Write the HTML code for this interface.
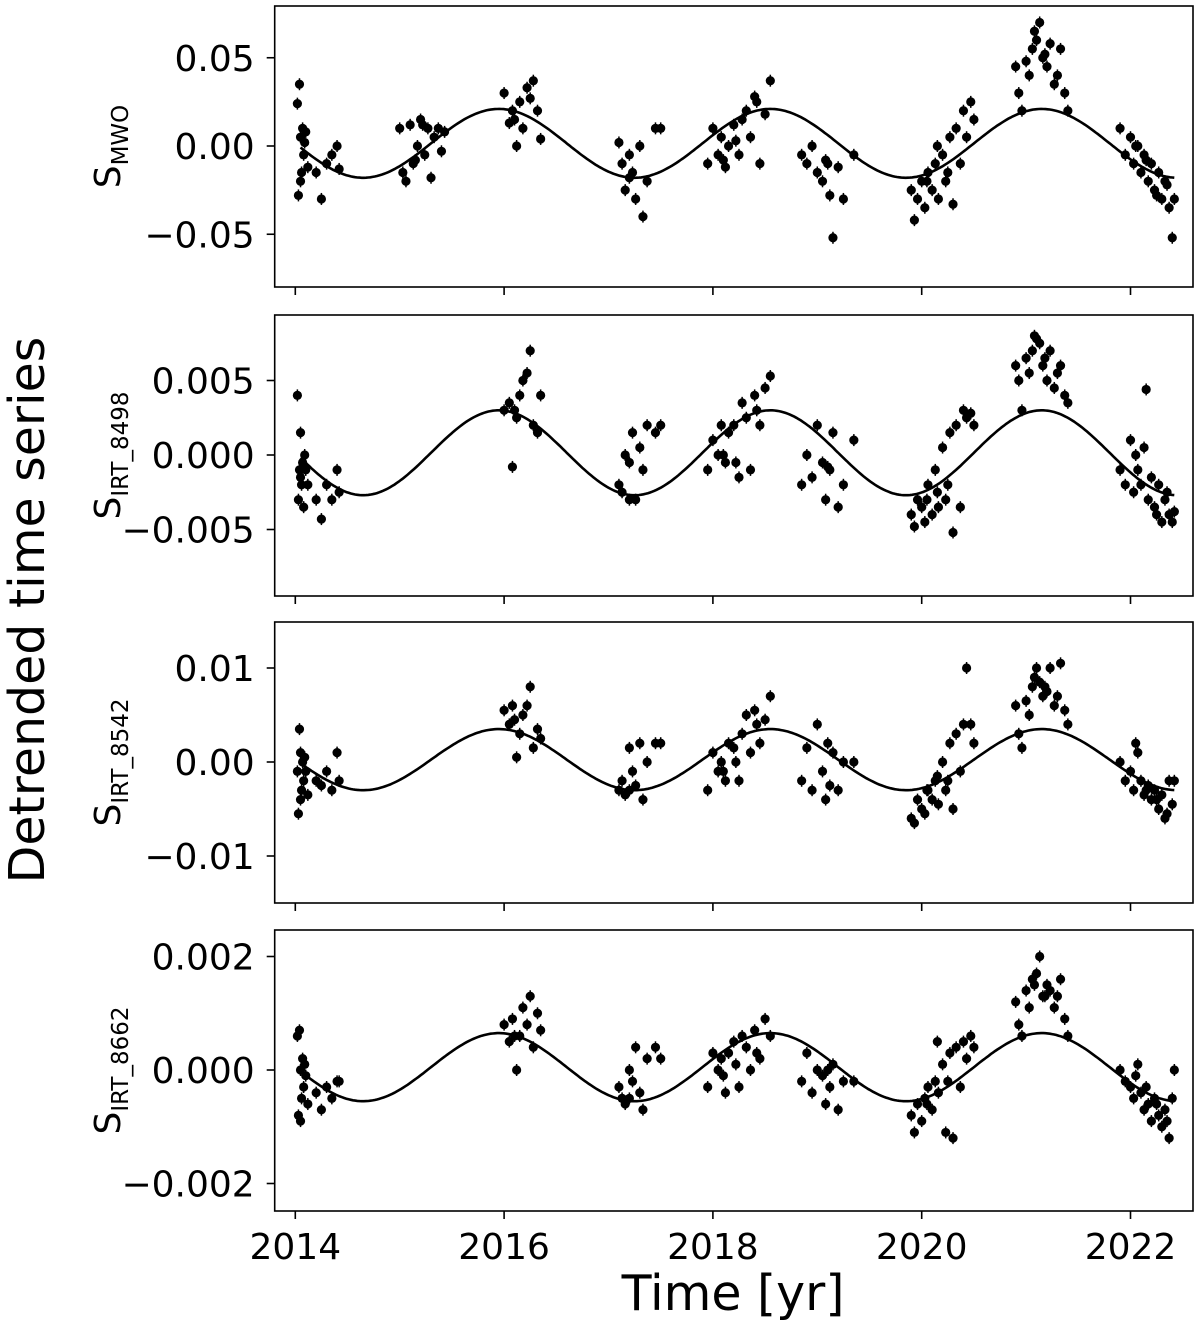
<!DOCTYPE html>
<html><head><meta charset="utf-8"><style>
body{margin:0;background:#fff}
svg{display:block}
text{font-family:"DejaVu Sans","Liberation Sans",sans-serif;fill:#000}
</style></head><body>
<svg id="chart" width="1200" height="1326" viewBox="0 0 1200 1326" xmlns="http://www.w3.org/2000/svg"></svg>
<script>
const tA=[2014.02,2014.03,2014.04,2014.05,2014.06,2014.07,2014.08,2014.1,2014.12,2014.2,2014.25,2014.3,2014.35,2014.4,2014.42,2014.05,2014.09];
const tB=[2015.0,2015.03,2015.06,2015.1,2015.13,2015.17,2015.2,2015.24,2015.27,2015.3,2015.33,2015.37,2015.4,2015.43,2015.15,2015.22];
const tC=[2016.0,2016.05,2016.08,2016.12,2016.15,2016.18,2016.22,2016.25,2016.28,2016.32,2016.35,2016.1];
const tD=[2017.1,2017.13,2017.16,2017.2,2017.23,2017.26,2017.3,2017.33,2017.37,2017.45,2017.5,2017.2];
const tE=[2017.95,2018.0,2018.05,2018.08,2018.12,2018.15,2018.2,2018.25,2018.28,2018.32,2018.36,2018.4,2018.45,2018.5,2018.55,2018.1,2018.22,2018.42];
const tF=[2018.85,2018.9,2018.95,2019.0,2019.05,2019.08,2019.12,2019.15,2019.2,2019.25,2019.1,2019.35];
const tG=[2019.9,2019.93,2019.96,2020.0,2020.03,2020.06,2020.1,2020.13,2020.16,2020.2,2020.23,2020.27,2020.3,2020.33,2020.37,2020.4,2020.43,2020.47,2020.5,2020.25,2020.15,2020.05];
const tH=[2020.9,2020.93,2020.96,2021.0,2021.03,2021.06,2021.1,2021.13,2021.16,2021.2,2021.23,2021.27,2021.3,2021.33,2021.37,2021.4,2021.08,2021.18];
const tI=[2021.9,2021.95,2022.0,2022.03,2022.07,2022.1,2022.13,2022.17,2022.2,2022.23,2022.27,2022.3,2022.33,2022.37,2022.4,2022.42,2022.05,2022.15,2022.25,2022.35];
const times=[...tA,...tB,...tC,...tD,...tE,...tF,...tG,...tH,...tI];
const nB=[null,null,null,null,null,null,null,null,null,null,null,null,null,null,null,null];
const sMWO=[0.024,-0.028,0.035,0.005,-0.015,0.01,-0.005,0.008,-0.012,-0.015,-0.03,-0.01,-0.005,0.0,-0.013,-0.02,0.002,
0.01,-0.015,-0.02,0.012,-0.01,0.0,0.015,-0.005,0.01,-0.018,0.005,0.01,-0.003,0.008,-0.008,0.012,
0.03,0.013,0.02,0.0,0.025,0.01,0.033,0.027,0.037,0.02,0.004,0.015,
0.002,-0.01,-0.025,-0.005,-0.015,-0.03,0.0,-0.04,-0.02,0.01,0.01,-0.018,
-0.01,0.01,-0.005,0.005,-0.012,0.0,0.012,-0.005,0.015,0.02,0.005,0.028,-0.01,0.018,0.037,-0.008,0.003,0.025,
-0.005,-0.01,0.0,-0.015,-0.02,-0.008,-0.028,-0.052,-0.012,-0.03,-0.01,-0.005,
-0.025,-0.042,-0.03,-0.02,-0.035,-0.015,-0.025,-0.01,-0.03,-0.005,-0.02,0.005,-0.033,0.01,-0.01,0.02,0.005,0.025,0.015,-0.015,0.0,-0.02,
0.045,0.03,0.02,0.048,0.04,0.055,0.06,0.07,0.05,0.045,0.058,0.035,0.04,0.055,0.03,0.02,0.065,0.052,
0.01,-0.005,0.005,-0.01,0.0,-0.015,-0.005,-0.02,-0.01,-0.025,-0.015,-0.03,-0.02,-0.035,-0.052,-0.03,0.0,-0.008,-0.028,-0.022];
const s8498=[0.004,-0.003,-0.001,0.0015,-0.002,-0.0005,-0.0035,-0.001,-0.002,-0.003,-0.0043,-0.002,-0.003,-0.001,-0.0025,-0.0015,0.0,
...nB,
0.003,0.0035,-0.0008,0.0025,0.004,0.005,0.0055,0.007,0.002,0.0015,0.004,0.003,
-0.002,-0.0025,0.0,-0.0005,0.0015,-0.003,0.0005,-0.001,0.002,0.0015,0.002,-0.003,
-0.001,0.001,0.0,0.002,-0.0005,0.0015,0.002,-0.0015,0.0035,0.0025,-0.001,0.004,0.002,0.0045,0.0053,0.0,-0.0005,0.003,
-0.002,0.0,-0.0015,0.002,-0.0005,-0.003,-0.001,0.0015,-0.0035,-0.002,-0.0008,0.001,
-0.004,-0.0048,-0.003,-0.0035,-0.0045,-0.002,-0.004,-0.001,-0.0035,0.0005,-0.003,0.0015,-0.0052,0.002,-0.0035,0.003,0.0025,0.0028,0.002,-0.002,-0.0025,-0.003,
0.006,0.005,0.003,0.0065,0.0055,0.007,0.0078,0.0075,0.006,0.005,0.007,0.0045,0.0055,0.006,0.004,0.0035,0.008,0.0065,
-0.001,-0.002,0.001,-0.0025,-0.001,-0.002,0.0005,-0.003,-0.0015,-0.0035,-0.002,-0.0045,-0.003,-0.004,-0.0045,-0.0038,0.0,0.0044,-0.004,-0.0025];
const s8542=[-0.001,-0.0055,0.0035,0.001,-0.003,0.0,-0.002,-0.001,-0.0035,-0.002,-0.0025,-0.001,-0.003,0.001,-0.002,-0.004,0.0005,
...nB,
0.0055,0.004,0.006,0.0005,0.003,0.005,0.006,0.008,0.0015,0.0035,0.0025,0.0045,
-0.003,-0.002,-0.0035,0.0015,-0.001,-0.0025,0.002,-0.004,0.0,0.002,0.002,-0.003,
-0.003,0.001,-0.001,0.0,-0.002,0.002,0.0015,-0.002,0.003,0.005,0.001,0.0055,0.002,0.0045,0.007,-0.001,0.0,0.004,
-0.002,0.0015,-0.003,0.004,-0.001,-0.004,-0.0025,0.001,-0.003,0.0,0.002,0.0,
-0.006,-0.0065,-0.004,-0.005,-0.0055,-0.003,-0.004,-0.002,-0.0045,0.0,-0.003,0.002,-0.005,0.003,-0.001,0.004,0.01,0.004,0.002,-0.002,-0.0015,-0.003,
0.006,0.003,0.0015,0.0065,0.005,0.008,0.01,0.0085,0.007,0.0075,0.01,0.006,0.007,0.0105,0.0055,0.004,0.009,0.008,
0.0,-0.002,-0.001,-0.003,0.001,-0.002,-0.0035,-0.0025,-0.004,-0.003,-0.005,-0.0035,-0.006,-0.002,-0.0045,-0.002,0.002,-0.003,-0.004,-0.0055];
const s8662=[0.0006,-0.0008,0.0007,0.0,-0.0005,0.0002,-0.0003,-0.0001,-0.0006,-0.0004,-0.0007,-0.0003,-0.0005,-0.0002,-0.0002,-0.0009,0.0001,
...nB,
0.0008,0.0005,0.0009,0.0,0.0006,0.0011,0.0008,0.0013,0.0004,0.001,0.0007,0.0006,
-0.0003,-0.0005,-0.0006,0.0,-0.0002,0.0004,-0.0004,-0.0007,0.0002,0.0004,0.0002,-0.0005,
-0.0003,0.0003,0.0,0.0002,-0.0004,0.0003,0.0005,-0.0003,0.0006,0.0004,0.0,0.0007,0.0002,0.0009,0.0006,-0.0001,0.0001,0.0003,
-0.0002,0.0003,-0.0004,0.0,-0.0001,-0.0006,-0.0003,0.0001,-0.0007,-0.0002,0.0,-0.0002,
-0.0008,-0.0011,-0.0006,-0.0009,-0.0005,-0.0003,-0.0007,-0.0002,-0.0004,0.0001,-0.0011,0.0003,-0.0012,0.0004,-0.0003,0.0005,0.0002,0.0006,0.0004,-0.0002,0.0005,-0.0006,
0.0012,0.0008,0.0006,0.0014,0.0011,0.0016,0.0017,0.002,0.0013,0.0015,0.0014,0.0011,0.0013,0.0016,0.0009,0.0006,0.0015,0.0013,
0.0,-0.0002,-0.0003,-0.0005,0.0001,-0.0004,-0.0007,-0.0006,-0.0009,-0.0005,-0.0008,-0.001,-0.0007,-0.0012,-0.0005,0.0,-0.0001,-0.0003,-0.0006,-0.0009];
const xTicks=[2014,2016,2018,2020,2022];
const panelNames=["mwo","irt-8498","irt-8542","irt-8662"];
const panelSubs=["MWO","IRT_8498","IRT_8542","IRT_8662"];
const yTickVals=[[0.05,0,-0.05],[0.005,0,-0.005],[0.01,0,-0.01],[0.002,0,-0.002]];
const yTickLabels=[["0.05","0.00","\u22120.05"],["0.005","0.000","\u22120.005"],["0.01","0.00","\u22120.01"],["0.002","0.000","\u22120.002"]];
const series=[sMWO,s8498,s8542,s8662];
const fitAmp=[0.0195,0.00285,0.00325,0.0006];
const fitOff=[0.0015,0.00015,0.00025,0.00005];
const fitPeriod=2.6, fitPeak=2015.95;

const NS="http://www.w3.org/2000/svg";
const svg=document.getElementById('chart');
function mk(tag,attrs,parent){const e=document.createElementNS(NS,tag);for(const k in attrs)e.setAttribute(k,attrs[k]);(parent||svg).appendChild(e);return e;}
const L=274.7,R=1193;
const tops=[6,315,622,930],bots=[287,596,903,1211];
const zeros=[146,455,762,1070];
const scales=[1765,14900,9400,56750];
const x=t=>295.3+(t-2014)*104.4;
for(let p=0;p<4;p++){
  const y=v=>zeros[p]-v*scales[p];
  const g=mk('g',{});
  
  
  let d='';
  for(let i=0;i<=400;i++){const t=2014.05+(2022.42-2014.05)*i/400;const v=fitOff[p]+fitAmp[p]*Math.cos(2*Math.PI*(t-fitPeak)/fitPeriod);d+=(i?'L':'M')+x(t).toFixed(1)+','+y(v).toFixed(1);}
  const c=mk('path',{d:d,fill:'none',stroke:'#000','stroke-width':2.6},g);
  
  
  const vals=series[p];
  for(let i=0;i<times.length;i++){
    if(vals[i]===null)continue;
    const cx=x(times[i]),cy=y(vals[i]);
    const eb=mk('line',{x1:cx,x2:cx,y1:cy-6,y2:cy+6,stroke:'#000','stroke-width':1.5},g);
    
    
    const pt=mk('circle',{cx:cx,cy:cy,r:4.6,fill:'#000'},g);
    
    
  }
  const fr=mk('rect',{x:L,y:tops[p],width:R-L,height:bots[p]-tops[p],fill:'none',stroke:'#000','stroke-width':1.6},g);
  
  
  xTicks.forEach(t=>{
    const tk=mk('line',{x1:x(t),x2:x(t),y1:bots[p],y2:bots[p]+8,stroke:'#000','stroke-width':1.6},g);
    
    
    if(p===3){
      const tl=mk('text',{x:x(t),y:bots[p]+48,'text-anchor':'middle','font-size':36},g);
      tl.textContent=t;
      
      
    }
  });
  yTickVals[p].forEach((v,j)=>{
    const tk=mk('line',{x1:L-8,x2:L,y1:y(v),y2:y(v),stroke:'#000','stroke-width':1.6},g);
    
    
    const tl=mk('text',{x:L-20,y:y(v)+13,'text-anchor':'end','font-size':36},g);
    tl.textContent=yTickLabels[p][j];
    
    
  });
  const cy=(tops[p]+bots[p])/2;
  const yl=mk('text',{transform:'translate(120,'+cy+') rotate(-90)','text-anchor':'middle','font-size':36},g);
  
  
  const s1=mk('tspan',{},yl);s1.textContent='S';
  const s2=mk('tspan',{'font-size':23,dy:8},yl);s2.textContent=panelSubs[p];
}
const yt=mk('text',{transform:'translate(44,610) rotate(-90)','text-anchor':'middle','font-size':49});
yt.textContent='Detrended time series';


const xt=mk('text',{x:733,y:1310,'text-anchor':'middle','font-size':49});
xt.textContent='Time [yr]';


</script>
</body></html>
